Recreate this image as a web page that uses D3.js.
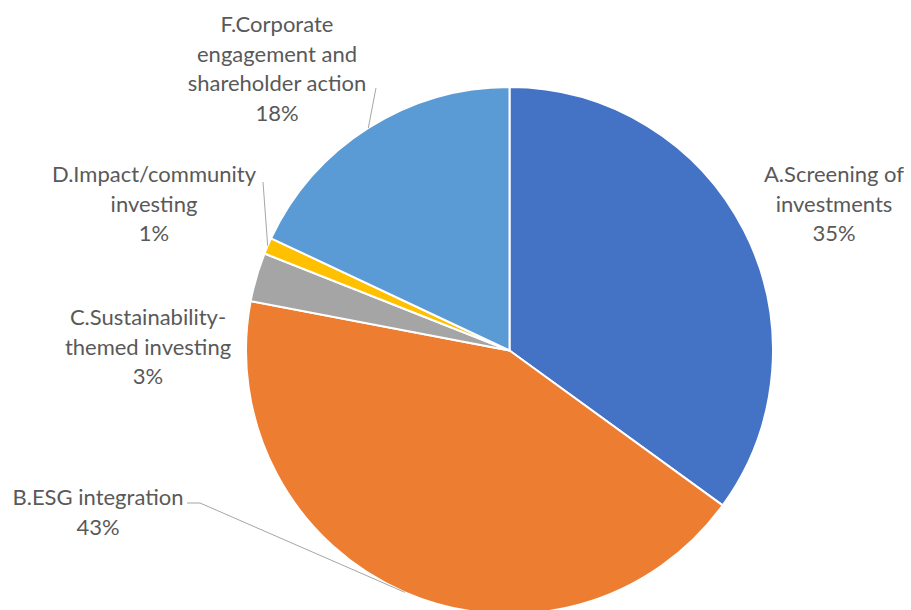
<!DOCTYPE html>
<html>
<head>
<meta charset="utf-8">
<script src="https://cdn.jsdelivr.net/npm/d3@7"></script>
<style>
  html, body { margin: 0; padding: 0; background: #fff; }
  svg { display: block; }
</style>
</head>
<body>
<svg id="chart" width="911" height="610"></svg>
<script>
// Shares of sustainable investing strategies
const categories = [
  "A.Screening of investments",
  "B.ESG integration",
  "C.Sustainability-themed investing",
  "D.Impact/community investing",
  "F.Corporate engagement and shareholder action"
];
const shares = [35, 43, 3, 1, 18];
const labelLines = [
  ["A.Screening of", "investments"],
  ["B.ESG integration"],
  ["C.Sustainability-", "themed investing"],
  ["D.Impact/community", "investing"],
  ["F.Corporate", "engagement and", "shareholder action"]
];
const colors = ["#4472C4", "#ED7D31", "#A5A5A5", "#FFC000", "#5B9BD5"];

// Label placement: centre x and first baseline y, plus an optional leader anchor
const labelLayout = [
  { x: 834, y: 182, leader: null },
  { x: 98,  y: 505, leader: [[187, 503], [200, 503]] },
  { x: 148, y: 325, leader: null },
  { x: 154, y: 182, leader: [[263, 182]] },
  { x: 277, y: 32,  leader: [[376, 88]] }
];

const svg = d3.select("#chart");
const cx = 509.5, cy = 350.5, r = 263.5;
const lineH = 29.5;

const pie = d3.pie().sort(null).value(d => d.value);
const arcs = pie(categories.map((c, i) => ({ name: c, value: shares[i], i })));
const arc = d3.arc().innerRadius(0).outerRadius(r);

const g = svg.append("g").attr("transform", `translate(${cx},${cy})`);

g.selectAll("path.slice")
  .data(arcs)
  .enter().append("path")
  .attr("class", "slice")
  .attr("d", arc)
  .attr("fill", d => colors[d.data.i])
  .attr("stroke", "#fff")
  .attr("stroke-width", 2)
  .attr("stroke-linejoin", "round");

// Leader lines from the slice edge (mid angle) to the label
arcs.forEach(d => {
  const lay = labelLayout[d.data.i];
  if (!lay.leader) return;
  const mid = (d.startAngle + d.endAngle) / 2;
  const edge = [cx + r * Math.sin(mid), cy - r * Math.cos(mid)];
  const pts = lay.leader.concat([edge]);
  svg.append("path")
    .attr("d", d3.line()(pts))
    .attr("fill", "none")
    .attr("stroke", "#A6A6A6")
    .attr("stroke-width", 1);
});

// Category labels with percentage
arcs.forEach(d => {
  const i = d.data.i;
  const lay = labelLayout[i];
  const lines = labelLines[i].concat([d3.format(".0f")(d.data.value) + "%"]);
  const t = svg.append("text")
    .attr("x", lay.x)
    .attr("y", lay.y)
    .attr("text-anchor", "middle")
    .attr("fill", "#595959")
    .style("font-family", "Lato, 'Open Sans', sans-serif")
    .style("font-size", "22px");
  lines.forEach((ln, k) => {
    t.append("tspan")
      .attr("x", lay.x)
      .attr("y", lay.y + k * lineH)
      .text(ln);
  });
});
</script>
</body>
</html>
